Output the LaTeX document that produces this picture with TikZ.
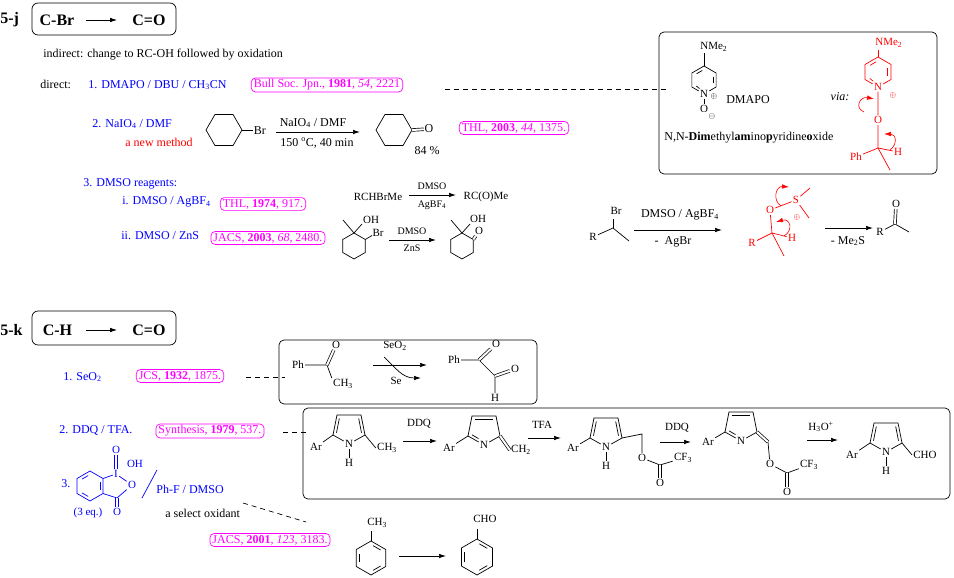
\documentclass[tikz,border=0pt]{standalone}
\usepackage{fontspec}
\setmainfont{Liberation Serif}
\usepackage{tikz}
\usetikzlibrary{arrows,arrows.meta}
\definecolor{refmag}{RGB}{255,0,255}
\definecolor{regblue}{RGB}{0,0,255}
\tikzset{>={Latex[length=7pt,width=4.5pt]}}
\tikzset{
  txt/.style={anchor=west,inner sep=0pt,font=\fontsize{12}{14}\selectfont},
  reagent/.style={txt,text=regblue},
  lab/.style={inner sep=0.5pt,font=\fontsize{12}{14}\selectfont},
  small/.style={inner sep=0.5pt,font=\fontsize{10}{11}\selectfont},
  atom/.style={inner sep=1pt,font=\fontsize{11}{12}\selectfont},
  chg/.style={inner sep=0pt,font=\fontsize{8}{9}\selectfont},
  refbox/.style={draw=refmag,text=refmag,rounded corners=4pt,inner xsep=2.5pt,inner ysep=1.5pt,font=\fontsize{12}{14}\selectfont},
  hdr/.style={inner sep=0pt,font=\fontsize{16}{18}\selectfont\bfseries},
  hdrbox/.style={rounded corners=6pt},
  dbond/.style={double,double distance=2pt},
  link/.style={dash pattern=on 5pt off 4pt},
  curly/.style={->,red,line width=0.6pt}
}

\begin{document}
\begin{tikzpicture}[x=1pt,y=-1pt,line width=0.7pt]
\useasboundingbox (0,0) rectangle (954,578);

% 5-j
\node[hdr,anchor=west] (secJ) at (0,20) {5-j};
\draw[hdrbox] (32,3) rectangle (176,35);
\node[hdr] (jFrom) at (57,20) {C-Br};
\node[hdr] (jTo) at (149,20) {C=O};
\draw[->,shorten <=11pt,shorten >=15pt] (jFrom) -- (jTo);

\node[txt] (indirect) at (43,55) {indirect: change to RC-OH followed by oxidation};
\node[txt] (direct) at (40,84) {direct:};
\node[reagent] (jm1) at (88,85) {1. DMAPO / DBU / CH\textsubscript{3}CN};
\node[refbox] (jr1) at (327,85) {Bull Soc. Jpn., \textbf{1981}, \textit{54}, 2221};
\coordinate (jd1) at (445,89);
\coordinate (jd1e) at (667,89);
\draw[link] (jd1) -- (jd1e);

\draw[rounded corners=5pt] (659,32) rectangle (937,174);
\begin{scope}[shift={(704,80)}]
  \node[atom] (dN) at (0,14) {N};
  \node[atom,anchor=west] (dNMe) at (-5,-33) {NMe\textsubscript{2}};
  \node[chg] (dPlus) at (10,17) {$\oplus$};
  \node[atom] (dO) at (0,29) {O};
  \node[chg] (dMinus) at (8,36) {$\ominus$};
  \draw (dN) -- (150:14) -- (210:14) -- (-90:14) -- (-30:14) -- (30:14) -- (dN);
  \foreach \a in {-30,210} \draw (\a+10:9.7) -- (\a+50:9.7);
  \draw (118:9.7) -- (142:9.7);
  \draw (-90:14) -- (0,-27);
  \draw (dN) -- (dO);
\end{scope}
\node[lab] (dName) at (748,100) {DMAPO};
\node[txt] (dFull) at (664,138) {N,N-\textbf{Dim}ethyl\textbf{am}ino\textbf{p}yridine\textbf{o}xide};
\node[lab,font=\fontsize{12}{14}\selectfont\itshape] (via) at (840,97) {via:};
\begin{scope}[red,shift={(878,72)}]
  \node[atom] (vN) at (0,15) {N};
  \node[atom,anchor=west] (vNMe) at (-4,-29) {NMe\textsubscript{2}};
  \node[chg] (vPlus) at (15,24) {$\oplus$};
  \node[atom] (vO) at (0,48) {O};
  \node[atom] (vPh) at (-22,85) {Ph};
  \node[atom] (vH) at (20,80) {H};
  \coordinate (vC) at (0,76);
  \draw (vN) -- (150:15) -- (210:15) -- (-90:15) -- (-30:15) -- (30:15) -- (vN);
  \foreach \a in {-30,210} \draw (\a+10:10.4) -- (\a+50:10.4);
  \draw (118:10.4) -- (142:10.4);
  \draw (-90:15) -- (0,-22);
  \draw (vN) -- (vO) -- (vC) -- (vPh);
  \draw (vC) -- (vH);
  \draw (vC) -- (12,98);
  \draw[curly] (-14,40) .. controls (-24,36) and (-18,24) .. (-4,27);
  \draw[curly] (12,78) .. controls (20,72) and (18,62) .. (6,62);
\end{scope}

\node[reagent] (jm2) at (92,124) {2. NaIO\textsubscript{4} / DMF};
\node[txt,text=red] (jm2n) at (125,142) {a new method};
\begin{scope}[shift={(224,130)}]
  \draw (0:18) -- (60:18) -- (120:18) -- (180:18) -- (240:18) -- (300:18) -- cycle;
  \draw (0:18) -- (29,0);
\end{scope}
\node[lab,anchor=west] (nBr) at (253,131) {Br};
\coordinate (nA1) at (276,132);
\coordinate (nA2) at (360,132);
\draw[->] (nA1) -- (nA2);
\node[lab] (nTop) at (313,123) {NaIO\textsubscript{4} / DMF};
\node[lab] (nBot) at (317,143) {150 \textsuperscript{o}C, 40 min};
\begin{scope}[shift={(394,130)}]
  \draw (0:18) -- (60:18) -- (120:18) -- (180:18) -- (240:18) -- (300:18) -- cycle;
\end{scope}
\node[lab] (nO) at (429,129) {O};
\draw[dbond] (412,130) -- (nO);
\node[lab] (nYield) at (427,151) {84 \%};
\node[refbox] (jr2) at (514,128) {THL, \textbf{2003}, \textit{44}, 1375.};

\node[reagent] (jm3) at (83,184) {3. DMSO reagents:};
\node[reagent] (jm3a) at (122,202) {i. DMSO / AgBF\textsubscript{4}};
\node[refbox] (jr3a) at (263,204) {THL, \textbf{1974}, 917.};
\node[reagent] (jm3b) at (121,236) {ii. DMSO / ZnS};
\node[refbox] (jr3b) at (268,238) {JACS, \textbf{2003}, \textit{68}, 2480.};

\node[atom] (sRX) at (378,197) {RCHBrMe};
\coordinate (sA1) at (409,195);
\coordinate (sA2) at (456,195);
\draw[->] (sA1) -- (sA2);
\node[small] (sTop) at (432,186) {DMSO};
\node[small] (sBot) at (432,205) {AgBF\textsubscript{4}};
\node[atom] (sKet) at (486,197) {RC(O)Me};

\begin{scope}[shift={(354,246)}]
  \draw (-90:13) -- (-30:13) -- (30:13) -- (90:13) -- (150:13) -- (210:13) -- cycle;
  \draw (-90:13) -- (-11,-26);
  \draw (-90:13) -- (8,-22);
  \draw (-30:13) -- (18,-10.5);
\end{scope}
\node[atom] (hOH1) at (371,220) {OH};
\node[atom] (hBr) at (378,233) {Br};
\coordinate (hA1) at (389,240);
\coordinate (hA2) at (436,240);
\draw[->] (hA1) -- (hA2);
\node[small] (hTop) at (412,231) {DMSO};
\node[small] (hBot) at (412,248) {ZnS};
\begin{scope}[shift={(462,246)}]
  \draw (-90:13) -- (-30:13) -- (30:13) -- (90:13) -- (150:13) -- (210:13) -- cycle;
  \draw (-90:13) -- (-11,-26);
  \draw (-90:13) -- (8,-22);
\end{scope}
\node[atom] (hOH2) at (478,219) {OH};
\node[atom] (hO2) at (479,231) {O};
\draw[dbond] (473.3,239.5) -- (hO2);

\node[atom] (mR1) at (593,237) {R};
\node[atom] (mBr) at (616,211) {Br};
\coordinate (mC1) at (613,228);
\draw (mR1) -- (mC1) -- (629,241);
\draw (mC1) -- (613,219);
\coordinate (mA1s) at (634,230);
\coordinate (mA1e) at (722,230);
\draw[->] (mA1s) -- (mA1e);
\node[lab] (mA1t) at (680,215) {DMSO / AgBF\textsubscript{4}};
\node[lab] (mA1b) at (673,242) {-~~AgBr};
\begin{scope}[red]
  \node[atom] (iR) at (752,243) {R};
  \node[atom] (iO) at (770,210) {O};
  \node[atom] (iS) at (796,200) {S};
  \node[atom] (iH) at (792,238) {H};
  \coordinate (iC) at (772,233);
  \draw (iR) -- (iC) -- (iO);
  \draw (iC) -- (iH);
  \draw (iC) -- (784,256);
  \draw (iO) -- (iS);
  \draw (iS) -- (810,188);
  \draw (iS) -- (809,218);
  \node[chg] (iPlus) at (797,217) {$\oplus$};
  \draw[curly] (781,206) .. controls (772,200) and (776,186) .. (789,187);
  \draw[curly] (784,236) .. controls (794,230) and (790,218) .. (776,222);
\end{scope}
\coordinate (mA2s) at (825,228);
\coordinate (mA2e) at (873,228);
\draw[->] (mA2s) -- (mA2e);
\node[lab] (mA2b) at (848,241) {-~Me\textsubscript{2}S};
\node[atom] (kR) at (880,232) {R};
\node[atom] (kO) at (896,204) {O};
\coordinate (kC) at (895,224);
\draw (kR) -- (kC) -- (909,232);
\draw[dbond] (kC) -- (kO);

% 5-k
\node[hdr,anchor=west] (secK) at (0,330) {5-k};
\draw[hdrbox] (32,311) rectangle (176,345);
\node[hdr] (kFrom) at (57.5,330) {C-H};
\node[hdr] (kTo) at (149,330) {C=O};
\draw[->,shorten <=13pt,shorten >=15pt] (kFrom) -- (kTo);

\node[reagent] (km1) at (63,377) {1. SeO\textsubscript{2}};
\node[refbox] (kr1) at (180,376) {JCS, \textbf{1932}, 1875.};
\coordinate (kd1) at (246,377);
\coordinate (kd1e) at (285,377);
\draw[link] (kd1) -- (kd1e);
\draw[rounded corners=5pt] (279,340) rectangle (537,404);
\node[atom] (aPh) at (298,365) {Ph};
\node[atom] (aO) at (336,345) {O};
\node[atom] (aMe) at (343,384) {CH\textsubscript{3}};
\coordinate (aC) at (327,365);
\draw (aPh) -- (aC) -- (aMe.north west);
\draw[dbond] (aC) -- (aO);
\coordinate (aA1) at (373,365);
\coordinate (aA2) at (427,365);
\draw[->] (aA1) -- (aA2);
\node[atom] (aSeO) at (395,346) {SeO\textsubscript{2}};
\node[atom] (aSe) at (396,381) {Se};
\draw[->] (384,357) .. controls (396,368) and (402,378) .. (421,378);
\node[atom] (gPh) at (454,360) {Ph};
\node[atom] (gO1) at (496,344) {O};
\node[atom] (gO2) at (515,369) {O};
\node[atom] (gH) at (495,398) {H};
\coordinate (gC1) at (479,360);
\coordinate (gC2) at (495,376);
\draw (gPh) -- (gC1) -- (gC2) -- (gH);
\draw[dbond] (gC1) -- (gO1);
\draw[dbond] (gC2) -- (gO2);

\node[reagent] (km2) at (59,430) {2. DDQ / TFA.};
\node[refbox] (kr2) at (210,431) {Synthesis, \textbf{1979}, 537.};
\coordinate (kd2) at (283,432);
\coordinate (kd2e) at (309,432);
\draw[link] (kd2) -- (kd2e);
\draw[rounded corners=5pt] (303,408) rectangle (950,499);

\begin{scope}[shift={(349,431)}]
  \node[atom] (p1N) at (0,13) {N};
  \node[atom] (p1H) at (0,32) {H};
  \node[atom] (p1Ar) at (-33,16) {Ar};
  \node[atom] (p1Me) at (38,17) {CH\textsubscript{3}};
  \draw (p1N) -- (-16,4) -- (-12,-16) -- (12,-16) -- (16,4) -- (p1N);
  \draw (-12.5,1.7) -- (-9.7,-12.5);
  \draw (12.5,1.7) -- (9.7,-12.5);
  \draw (p1N) -- (p1H);
  \draw (-16,4) -- (p1Ar);
  \draw (16,4) -- (p1Me.west);
\end{scope}
\coordinate (pA1s) at (403,441);
\coordinate (pA1e) at (437,441);
\draw[->] (pA1s) -- (pA1e);
\node[atom] (pA1t) at (419,424) {DDQ};

\begin{scope}[shift={(484,432)}]
  \node[atom] (p2N) at (0,13) {N};
  \node[atom] (p2Ar) at (-35,16) {Ar};
  \node[atom] (p2CH) at (37,18) {CH\textsubscript{2}};
  \draw (p2N) -- (-16,4) -- (-12,-16) -- (12,-16) -- (16,4) -- (p2N);
  \draw (-9,-13) -- (9,-13);
  \draw (-11.9,2.9) -- (-5.5,6.6);
  \draw (-16,4) -- (p2Ar);
  \draw[dbond] (16,4) -- (p2CH.west);
\end{scope}
\coordinate (pA2s) at (528,438);
\coordinate (pA2e) at (561,438);
\draw[->] (pA2s) -- (pA2e);
\node[atom] (pA2t) at (542,425) {TFA};

\begin{scope}[shift={(606,434)}]
  \node[atom] (p3N) at (0,13) {N};
  \node[atom] (p3H) at (0,32) {H};
  \node[atom] (p3Ar) at (-33,14) {Ar};
  \node[atom] (p3O) at (36,24) {O};
  \node[atom] (p3CF) at (77,24) {CF\textsubscript{3}};
  \node[atom] (p3Oc) at (54,49) {O};
  \coordinate (p3C) at (54,31);
  \draw (p3N) -- (-16,4) -- (-12,-16) -- (12,-16) -- (16,4) -- (p3N);
  \draw (-12.5,1.7) -- (-9.7,-12.5);
  \draw (12.5,1.7) -- (9.7,-12.5);
  \draw (p3N) -- (p3H);
  \draw (-16,4) -- (p3Ar);
  \draw (16,4) -- (36,0) -- (p3O) -- (p3C) -- (p3CF);
  \draw[dbond] (p3C) -- (p3Oc);
\end{scope}
\coordinate (pA3s) at (660,442);
\coordinate (pA3e) at (691,442);
\draw[->] (pA3s) -- (pA3e);
\node[atom] (pA3t) at (677,428) {DDQ};

\begin{scope}[shift={(741,428)}]
  \node[atom] (p4N) at (0,13) {N};
  \node[atom] (p4Ar) at (-33,14) {Ar};
  \node[atom] (p4O) at (29,36) {O};
  \node[atom] (p4CF) at (68,37) {CF\textsubscript{3}};
  \node[atom] (p4Oc) at (46,64) {O};
  \coordinate (p4X) at (27,14);
  \coordinate (p4C) at (46,45);
  \draw (p4N) -- (-16,4) -- (-12,-16) -- (12,-16) -- (16,4) -- (p4N);
  \draw (-9,-13) -- (9,-13);
  \draw (-11.9,2.9) -- (-5.5,6.6);
  \draw (-16,4) -- (p4Ar);
  \draw[dbond] (16,4) -- (p4X);
  \draw (p4X) -- (p4O) -- (p4C) -- (p4CF);
  \draw[dbond] (p4C) -- (p4Oc);
\end{scope}
\coordinate (pA4s) at (807,440);
\coordinate (pA4e) at (838,440);
\draw[->] (pA4s) -- (pA4e);
\node[atom] (pA4t) at (821,427) {H\textsubscript{3}O\textsuperscript{+}};

\begin{scope}[shift={(886,439)}]
  \node[atom] (p5N) at (0,13) {N};
  \node[atom] (p5H) at (0,32) {H};
  \node[atom] (p5Ar) at (-34,16) {Ar};
  \node[atom] (p5CHO) at (39,16) {CHO};
  \draw (p5N) -- (-16,4) -- (-12,-16) -- (12,-16) -- (16,4) -- (p5N);
  \draw (-12.5,1.7) -- (-9.7,-12.5);
  \draw (12.5,1.7) -- (9.7,-12.5);
  \draw (p5N) -- (p5H);
  \draw (-16,4) -- (p5Ar);
  \draw (16,4) -- (p5CHO.west);
\end{scope}

\begin{scope}[regblue]
  \node[txt] (km3) at (61,484) {3.};
  \begin{scope}[shift={(90,486)}]
    \draw (-90:15) -- (-30:15) -- (30:15) -- (90:15) -- (150:15) -- (210:15) -- cycle;
    \foreach \a in {-30,90,210} \draw (\a+10:10.6) -- (\a+50:10.6);
  \end{scope}
  \node[atom] (xI) at (116,474) {I};
  \node[atom] (xOt) at (116,450) {O};
  \node[atom] (xOH) at (135,464) {OH};
  \node[atom] (xOr) at (132,485) {O};
  \node[atom] (xOc) at (117,512) {O};
  \coordinate (xC) at (117,498);
  \draw (103,478.5) -- (xI) -- (xOr) -- (xC) -- (103,493.5);
  \draw[dbond] (xI) -- (xOt);
  \draw[dbond] (xC) -- (xOc);
  \node[atom] (xEq) at (88,513) {(3 eq.)};
  \draw (142,498) -- (157,470);
  \node[reagent] (km3s) at (156,489) {Ph-F / DMSO};
\end{scope}
\node[txt] (km3n) at (165,513) {a select oxidant};
\coordinate (kd3) at (243,503);
\coordinate (kd3e) at (306,522);
\draw[link] (kd3) -- (kd3e);
\node[refbox] (kr3) at (270,540) {JACS, \textbf{2001}, \textit{123}, 3183.};

\begin{scope}[shift={(371,558)}]
  \draw (-90:17) -- (-30:17) -- (30:17) -- (90:17) -- (150:17) -- (210:17) -- cycle;
  \foreach \a in {-90,30,150} \draw (\a+10:12.5) -- (\a+50:12.5);
  \draw (-90:17) -- (0,-27);
\end{scope}
\node[atom,anchor=west] (tMe) at (366,523) {CH\textsubscript{3}};
\coordinate (tA1) at (399,556);
\coordinate (tA2) at (446,556);
\draw[->] (tA1) -- (tA2);
\begin{scope}[shift={(477,557)}]
  \draw (-90:18) -- (-30:18) -- (30:18) -- (90:18) -- (150:18) -- (210:18) -- cycle;
  \foreach \a in {-90,30,150} \draw (\a+10:13.4) -- (\a+50:13.4);
  \draw (-90:18) -- (0,-28);
\end{scope}
\node[atom,anchor=west] (tCHO) at (472,519) {CHO};
\end{tikzpicture}
\end{document}
